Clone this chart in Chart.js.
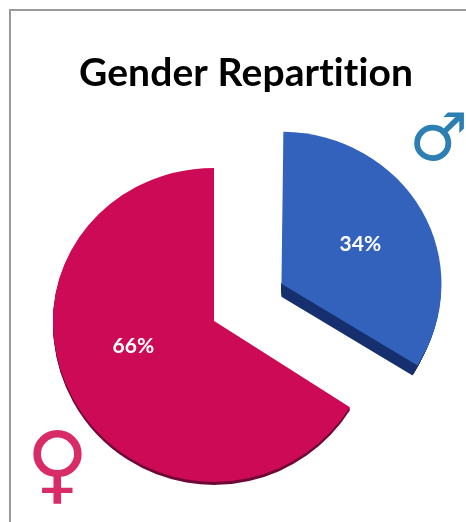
<!DOCTYPE html>
<html lang="en">
<head>
    <meta charset="UTF-8">
    <title>Gender Repartition</title>
    <script src="https://cdn.jsdelivr.net/npm/chart.js"></script>
    <style>
        html, body { margin: 0; padding: 0; background: #fff; overflow: hidden; }
        #wrap { position: relative; width: 466px; height: 522px; }
        /* frame only shows on top and left, the picture is cropped */
        #frame {
            position: absolute; left: 9px; top: 9px; right: -5px; bottom: -5px;
            border: 2px solid #9a9a9a;
        }
        #wrap canvas { position: absolute; left: 0; top: 0; }
        .sym { position: absolute; font-family: "DejaVu Sans", sans-serif; line-height: 1; }
    </style>
</head>
<body>
<div id="wrap">
    <div id="frame"></div>
    <canvas id="pie" width="466" height="522"></canvas>
    <div class="sym" style="left:409px; top:105px; font-size:66px; color:#2b7fb2;">♂</div>
    <div class="sym" style="left:26px; top:420px; font-size:86px; color:#d92b66;">♀</div>
</div>
<script>
    const categories = ["Male", "Female"];
    const values = [34, 66];
    const colors = ["#3362bc", "#cc0a55"];
    const sideColors = ["#17306f", "#6e0a38"];
    const chartTitle = "Gender Repartition";

    // fake 3D look, the original is a tilted pie
    const sideShift = [[-5, 10], [0, 3]];
    const scaleUp = [0.95, 0.95];    // y scale above each slice's tip
    const scaleDown = [0.97, 1];     // y scale below it
    const sliceRadius = [148, 161];  // Arc adds about 12px to the exploded slice by itself
    const labelNudge = [[14, -4], [-10, -13]];

    function sliceTip(arc) {
        const mid = (arc.startAngle + arc.endAngle) / 2;
        const off = arc.options.offset / 4;   // Arc element draws offset / 4
        return { x: arc.x + Math.cos(mid) * off, y: arc.y + Math.sin(mid) * off, mid: mid, off: off };
    }

    // draws the arc twice, each half with its own vertical scale
    function drawHalves(ctx, arc, i, shift) {
        const tip = sliceTip(arc);
        const seam = Math.round(tip.y);
        const halves = [[0, seam, scaleUp[i]], [seam, 522, scaleDown[i]]];
        halves.forEach(h => {
            ctx.save();
            ctx.beginPath();
            ctx.rect(0, h[0] + shift[1], 466, h[1] - h[0]);
            ctx.clip();
            ctx.translate(shift[0], tip.y + shift[1]);
            ctx.scale(1, h[2]);
            ctx.translate(0, -tip.y);
            arc.draw(ctx);
            ctx.restore();
        });
    }

    const tiltPlugin = {
        id: "tilt",
        afterLayout(chart) {
            // title sits right of the pie centre
            chart.titleBlock.left += 64;
        },
        beforeDraw(chart) {
            chart.ctx.letterSpacing = "0.1px";  // stops the "ti" ligature in the title
        },
        beforeDatasetDraw(chart) {
            const ctx = chart.ctx;
            const arcs = chart.getDatasetMeta(0).data;
            arcs.forEach((arc, i) => {
                arc.outerRadius = sliceRadius[i];
                const tip = sliceTip(arc);
                const keep = arc.options.backgroundColor;
                arc.options.backgroundColor = sideColors[i];
                ctx.save();
                ctx.beginPath();
                if (i === 1) {
                    // red slice: no dark edge along the straight cut
                    ctx.moveTo(tip.x, tip.y);
                    ctx.arc(tip.x, tip.y, 400, arc.startAngle, arc.endAngle);
                    ctx.closePath();
                } else {
                    ctx.rect(tip.x, tip.y, 466, 522);
                }
                ctx.clip();
                const n = sideShift[i][1];
                for (let d = n; d > 0; d--) {
                    drawHalves(ctx, arc, i, [sideShift[i][0] * d / n, d]);
                }
                ctx.restore();
                arc.options.backgroundColor = keep;
            });
            arcs.forEach((arc, i) => drawHalves(ctx, arc, i, [0, 0]));
            return false;
        },
        afterDatasetsDraw(chart) {
            const ctx = chart.ctx;
            ctx.save();
            ctx.fillStyle = "#fff";
            ctx.font = "bold 21px Lato";
            ctx.textAlign = "center";
            ctx.textBaseline = "middle";
            chart.getDatasetMeta(0).data.forEach((arc, i) => {
                const tip = sliceTip(arc);
                const r = arc.outerRadius / 2 + tip.off;
                ctx.fillText(values[i] + "%",
                    arc.x + Math.cos(tip.mid) * r + labelNudge[i][0],
                    arc.y + Math.sin(tip.mid) * r + labelNudge[i][1]);
            });
            ctx.restore();
        }
    };

    new Chart(document.getElementById("pie"), {
        type: "pie",
        data: {
            labels: categories,
            datasets: [{
                data: values,
                backgroundColor: colors,
                borderWidth: 0,
                offset: [308, 0],
                radius: 160
            }]
        },
        options: {
            responsive: false,
            animation: false,
            layout: { padding: { left: 0, right: 38, top: 0, bottom: 42 } },
            plugins: {
                legend: { display: false },
                tooltip: { enabled: false },
                title: {
                    display: true,
                    text: chartTitle,
                    color: "#000",
                    font: { family: "Lato", size: 39, weight: "bold" },
                    padding: { top: 50, bottom: 65 }
                }
            }
        },
        plugins: [tiltPlugin]
    });
</script>
</body>
</html>
